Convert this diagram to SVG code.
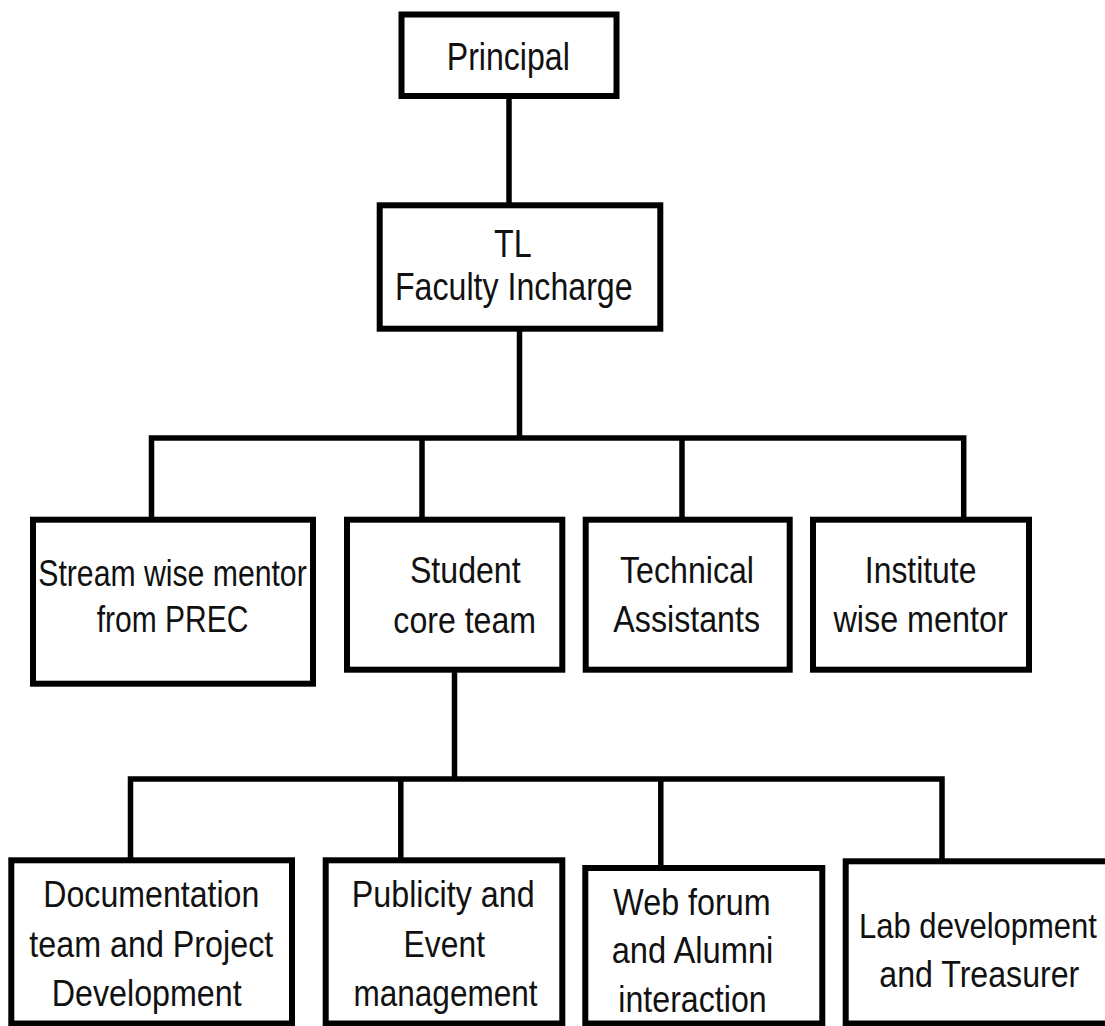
<svg xmlns="http://www.w3.org/2000/svg" width="1105" height="1026" viewBox="0 0 1105 1026">
<style>
.box{fill:#fff;stroke:#000;stroke-width:6}
.con{fill:none;stroke:#000;stroke-width:5.5;stroke-linejoin:miter;stroke-linecap:butt}
text{font-family:"Liberation Sans",Arial,sans-serif;font-size:36px;fill:#111;text-anchor:middle}
.big{font-size:38px}
</style>
<rect width="1105" height="1026" fill="#fff"/>
<g id="connectors">
<line class="con" x1="509" y1="98" x2="509" y2="204"/>
<line class="con" x1="519.5" y1="330" x2="519.5" y2="438"/>
<path class="con" d="M151.5,519 V438 H963.7 V519"/>
<line class="con" x1="422" y1="438" x2="422" y2="519"/>
<line class="con" x1="682" y1="438" x2="682" y2="519"/>
<line class="con" x1="454.5" y1="671" x2="454.5" y2="779"/>
<path class="con" d="M130.5,860 V779 H942 V860"/>
<line class="con" x1="400.8" y1="779" x2="400.8" y2="860"/>
<line class="con" x1="660.8" y1="779" x2="660.8" y2="866"/>
</g>
<g id="principal">
<rect class="box" x="401.5" y="14.5" width="215" height="81.5"/>
<text class="big" x="508.3" y="70" textLength="123" lengthAdjust="spacingAndGlyphs">Principal</text>
</g>
<g id="tl">
<rect class="box" x="379.7" y="205.3" width="280.6" height="123.4"/>
<text class="big" x="512.8" y="256.7" textLength="37.7" lengthAdjust="spacingAndGlyphs">TL</text>
<text class="big" x="513.8" y="300" textLength="237.7" lengthAdjust="spacingAndGlyphs">Faculty Incharge</text>
</g>
<g id="stream">
<rect class="box" x="33" y="519.7" width="280" height="164"/>
<text x="172.5" y="585.7" textLength="268.4" lengthAdjust="spacingAndGlyphs">Stream wise mentor</text>
<text x="172.5" y="631.7" textLength="151.6" lengthAdjust="spacingAndGlyphs">from PREC</text>
</g>
<g id="student">
<rect class="box" x="347" y="519.7" width="215.3" height="150"/>
<text x="465.3" y="583.3" textLength="110.7" lengthAdjust="spacingAndGlyphs">Student</text>
<text x="464.7" y="633.3" textLength="142.7" lengthAdjust="spacingAndGlyphs">core team</text>
</g>
<g id="technical">
<rect class="box" x="585.7" y="519.7" width="204" height="150"/>
<text x="687" y="583.3" textLength="134" lengthAdjust="spacingAndGlyphs">Technical</text>
<text x="686.7" y="631.7" textLength="146.7" lengthAdjust="spacingAndGlyphs">Assistants</text>
</g>
<g id="institute">
<rect class="box" x="813" y="519.7" width="216" height="150"/>
<text x="920.6" y="583.3" textLength="111.5" lengthAdjust="spacingAndGlyphs">Institute</text>
<text x="920.6" y="631.7" textLength="174.2" lengthAdjust="spacingAndGlyphs">wise mentor</text>
</g>
<g id="documentation">
<rect class="box" x="11.3" y="860.3" width="280.7" height="163.2"/>
<text x="151.3" y="906.7" textLength="216" lengthAdjust="spacingAndGlyphs">Documentation</text>
<text x="151.3" y="956.7" textLength="244" lengthAdjust="spacingAndGlyphs">team and Project</text>
<text x="146.7" y="1006" textLength="190" lengthAdjust="spacingAndGlyphs">Development</text>
</g>
<g id="publicity">
<rect class="box" x="325.7" y="860.3" width="236.6" height="163.2"/>
<text x="443.2" y="907.3" textLength="182.8" lengthAdjust="spacingAndGlyphs">Publicity and</text>
<text x="444.3" y="956.7" textLength="81.4" lengthAdjust="spacingAndGlyphs">Event</text>
<text x="445.5" y="1006" textLength="184" lengthAdjust="spacingAndGlyphs">management</text>
</g>
<g id="webforum">
<rect class="box" x="585.3" y="868" width="237" height="155.5"/>
<text x="692" y="915" textLength="157.3" lengthAdjust="spacingAndGlyphs">Web forum</text>
<text x="692.5" y="963.3" textLength="161.7" lengthAdjust="spacingAndGlyphs">and Alumni</text>
<text x="692.5" y="1011.7" textLength="148.3" lengthAdjust="spacingAndGlyphs">interaction</text>
</g>
<g id="lab">
<rect class="box" x="845.7" y="861.3" width="280" height="162.2"/>
<text transform="translate(978 938.3) scale(0.862 1)" x="0" y="0">Lab development</text>
<text x="979.3" y="987.3" textLength="200" lengthAdjust="spacingAndGlyphs">and Treasurer</text>
</g>
</svg>
